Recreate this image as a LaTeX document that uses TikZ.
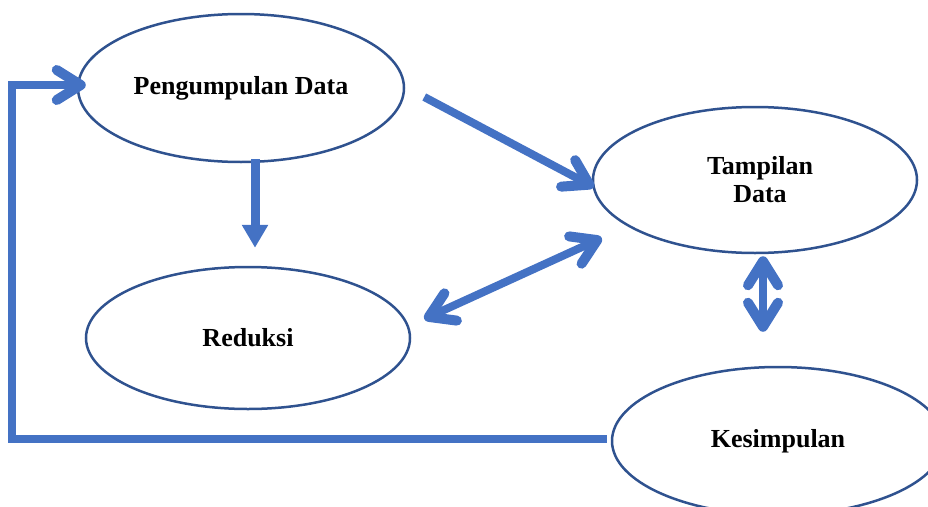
\documentclass[tikz,border=0pt]{standalone}
\usepackage{fontspec}
\setmainfont{Liberation Serif}
\usetikzlibrary{arrows.meta,shapes.geometric,calc}
\definecolor{arrowblue}{HTML}{4472C4}
\definecolor{edgeblue}{HTML}{2F528F}
\begin{document}
\begin{tikzpicture}[x=1pt,y=-1pt,
  oval/.style={ellipse, draw=edgeblue, line width=2.5pt, inner sep=0pt,
    font=\bfseries\fontsize{26}{28}\selectfont, align=center},
  flow/.style={draw=arrowblue, line width=8pt},
  barb/.tip={Straight Barb[length=24pt,width=30pt,line width=10pt,round]},
  tri/.tip={Triangle[length=23pt,width=25pt]}]
\clip (0,0) rectangle (928,506);
\node[oval, minimum width=326pt, minimum height=148pt] (P) at (241,88) {Pengumpulan Data};
\node[oval, minimum width=324pt, minimum height=146pt] (T) at (755,180) {\hspace*{10pt}Tampilan\\\hspace*{10pt}Data};
\node[oval, minimum width=324pt, minimum height=142pt] (R) at (248,338) {Reduksi};
\node[oval, minimum width=332pt, minimum height=148pt] (K) at (778,441) {Kesimpulan};
% P -> R
\draw[flow, line width=9pt, -tri] ($(P.south)+(14,-4)$) -- ($(R.north)+(7,-18)$);
% P -> T
\draw[flow, -barb] ($(P.east)+(19,9)$) -- ($(T.west)+(2,7)$);
% R <-> T
\draw[flow, barb-barb] ($(R.east)+(13,-19)$) -- ($(T.west)+(10,58)$);
% T <-> K
\draw[flow, barb-barb] ($(T.south)+(8,2)$) -- ($(K.north)+(-15,-34)$);
% feedback K -> P
\draw[flow, line join=miter, -barb] ($(K.west)+(-4,-2)$) -- ++(-595,0) |- ($(P.west)+(9,-3)$);
\end{tikzpicture}
\end{document}
